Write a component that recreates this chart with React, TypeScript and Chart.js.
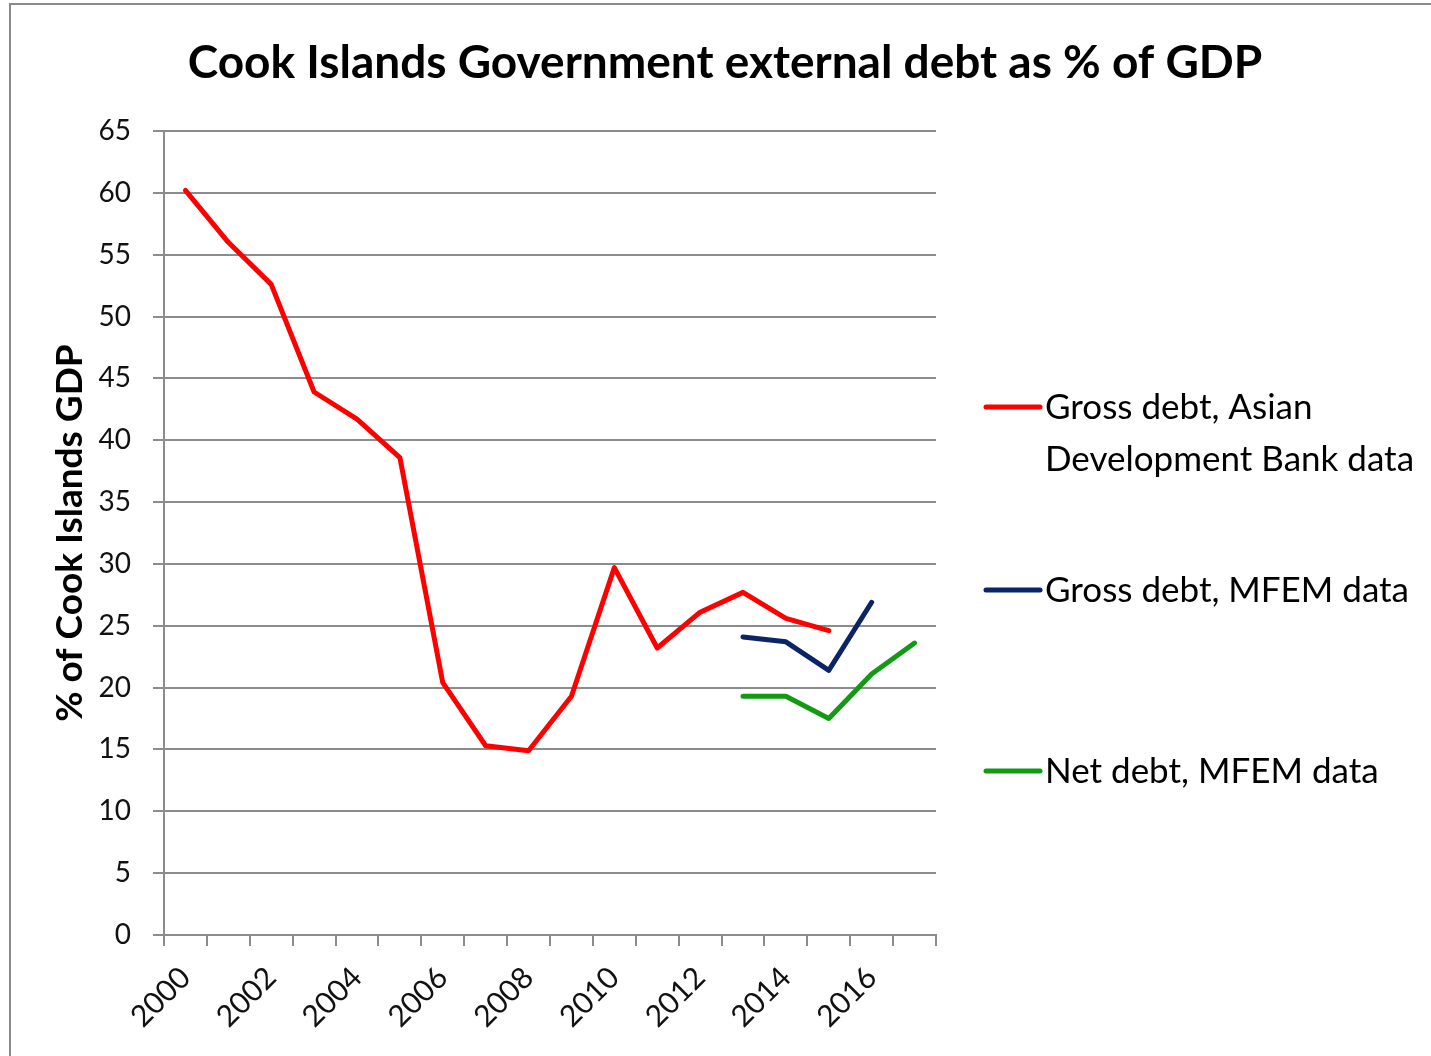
import React, { useEffect, useRef } from "react";
import { Chart, registerables } from "chart.js";

Chart.register(...registerables);

const years = ["2000", "2001", "2002", "2003", "2004", "2005", "2006", "2007", "2008", "2009", "2010", "2011", "2012", "2013", "2014", "2015", "2016", "2017"];
const grossADB = [60.2, 56.0, 52.6, 43.9, 41.7, 38.6, 20.4, 15.3, 14.9, 19.3, 29.7, 23.2, 26.1, 27.7, 25.6, 24.6, null, null];
const grossMFEM = [null, null, null, null, null, null, null, null, null, null, null, null, null, 24.1, 23.7, 21.4, 26.9, null];
const netMFEM = [null, null, null, null, null, null, null, null, null, null, null, null, null, 19.3, 19.3, 17.5, 21.1, 23.6];

const seriesNames = [
  ["Gross debt, Asian", "Development Bank data"],
  ["Gross debt, MFEM data"],
  ["Net debt, MFEM data"],
];
const seriesColors = ["#ff0000", "#0b2466", "#129a12"];
const titleText = "Cook Islands Government external debt as % of GDP";
const yTitle = "% of Cook Islands GDP";

const FONT = "Lato, 'Open Sans', sans-serif";
const GRID = "#8c8c8c";

export default function App() {
  const ref = useRef<HTMLCanvasElement>(null);
  useEffect(() => {
    const decor = {
      id: "decor",
      beforeDraw(chart: any) {
        const ctx = chart.ctx;
        ctx.save();
        ctx.fillStyle = "#fff";
        ctx.fillRect(0, 0, chart.width, chart.height);
        ctx.strokeStyle = "#8a8a8a";
        ctx.lineWidth = 2;
        ctx.beginPath();
        ctx.moveTo(10, chart.height);
        ctx.lineTo(10, 4);
        ctx.lineTo(chart.width, 4);
        ctx.stroke();
        ctx.restore();
      },
      afterDraw(chart: any) {
        const ctx = chart.ctx;
        const area = chart.chartArea;
        ctx.save();
        // title
        ctx.fillStyle = "#000";
        ctx.font = `bold 46px ${FONT}`;
        ctx.textAlign = "center";
        ctx.textBaseline = "middle";
        ctx.fillText(titleText, 725, 63);
        // legend
        const rows = [407, 590, 771];
        ctx.font = `35px ${FONT}`;
        ctx.textAlign = "left";
        seriesNames.forEach((lines, i) => {
          const y = rows[i];
          ctx.strokeStyle = seriesColors[i];
          ctx.lineWidth = 5;
          ctx.lineCap = "round";
          ctx.beginPath();
          ctx.moveTo(area.right + 50, y);
          ctx.lineTo(area.right + 104, y);
          ctx.stroke();
          ctx.fillStyle = "#000";
          lines.forEach((t, j) => ctx.fillText(t, area.right + 109, y + 1 + j * 52));
        });
        ctx.restore();
      },
    };

    const mk = (label: string, data: (number | null)[], color: string) => ({
      label,
      data,
      borderColor: color,
      backgroundColor: color,
      borderWidth: 5,
      pointRadius: 0,
      tension: 0,
      spanGaps: false,
      borderCapStyle: "round" as const,
      borderJoinStyle: "round" as const,
    });

    const chart = new Chart(ref.current!, {
      type: "line",
      data: {
        labels: years,
        datasets: [
          mk(seriesNames[0].join(" "), grossADB, seriesColors[0]),
          mk(seriesNames[1].join(" "), grossMFEM, seriesColors[1]),
          mk(seriesNames[2].join(" "), netMFEM, seriesColors[2]),
        ],
      },
      options: {
        responsive: false,
        animation: false,
        layout: { padding: { top: 131, right: 1431 - 936, bottom: 0, left: 0 } },
        plugins: {
          legend: { display: false },
          title: { display: false },
          tooltip: { enabled: false },
        },
        scales: {
          x: {
            type: "category",
            offset: true,
            grid: { offset: true, drawOnChartArea: false, drawTicks: true, tickLength: 11, color: GRID, lineWidth: 2 },
            border: { color: GRID, width: 2 },
            ticks: {
              autoSkip: false,
              minRotation: 45,
              maxRotation: 45,
              color: "#111",
              padding: 14,
              font: { family: FONT, size: 30 },
              callback: (_v: any, i: number) => (i % 2 === 0 ? years[i] : ""),
            },
            afterFit: (s: any) => {
              s.height = 121;
            },
          },
          y: {
            min: 0,
            max: 65,
            ticks: { stepSize: 5, color: "#111", padding: 22, font: { family: FONT, size: 28 } },
            grid: { color: GRID, lineWidth: 2, tickLength: 11 },
            border: { color: GRID, width: 2 },
            title: {
              display: true,
              text: yTitle,
              color: "#000",
              font: { family: FONT, size: 37, weight: "bold" },
              padding: { top: 48, bottom: 0 },
            },
            afterFit: (s: any) => {
              s.width = 164;
            },
          },
        },
      },
      plugins: [decor],
    });
    return () => chart.destroy();
  }, []);
  return (
    <canvas
      ref={ref}
      width={1431}
      height={1056}
      style={{ position: "absolute", left: 0, top: 0, width: 1431, height: 1056 }}
    />
  );
}
